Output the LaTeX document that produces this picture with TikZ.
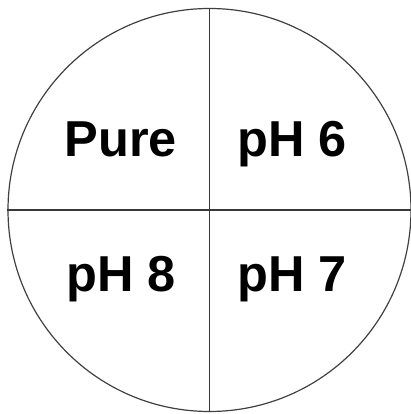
\documentclass[tikz,border=0pt]{standalone}
\usepackage{fontspec}
\setmainfont{Liberation Sans}
\begin{document}
\begin{tikzpicture}[x=1pt,y=1pt,
  lbl/.style={anchor=base west,inner sep=0pt,font=\fontsize{50.5}{56}\selectfont\bfseries,text=black},
  rim/.style={circle,draw=black!75,line width=1.2pt,minimum size=403pt,inner sep=0pt},
  divider/.style={draw=black!78,line width=1.5pt}]
\useasboundingbox (0,0) rectangle (410,414);
\node[rim] (c) at (209.5,204) {};
\draw[divider] (c.north) -- (c.south);
\draw[divider] (c.west) -- (c.east);
\node[lbl] (pure) at (64.5,257) {Pure};
\node[lbl] (ph6) at (237,257) {pH 6};
\node[lbl] (ph8) at (66,122) {pH 8};
\node[lbl] (ph7) at (237,122) {pH 7};
\end{tikzpicture}
\end{document}
